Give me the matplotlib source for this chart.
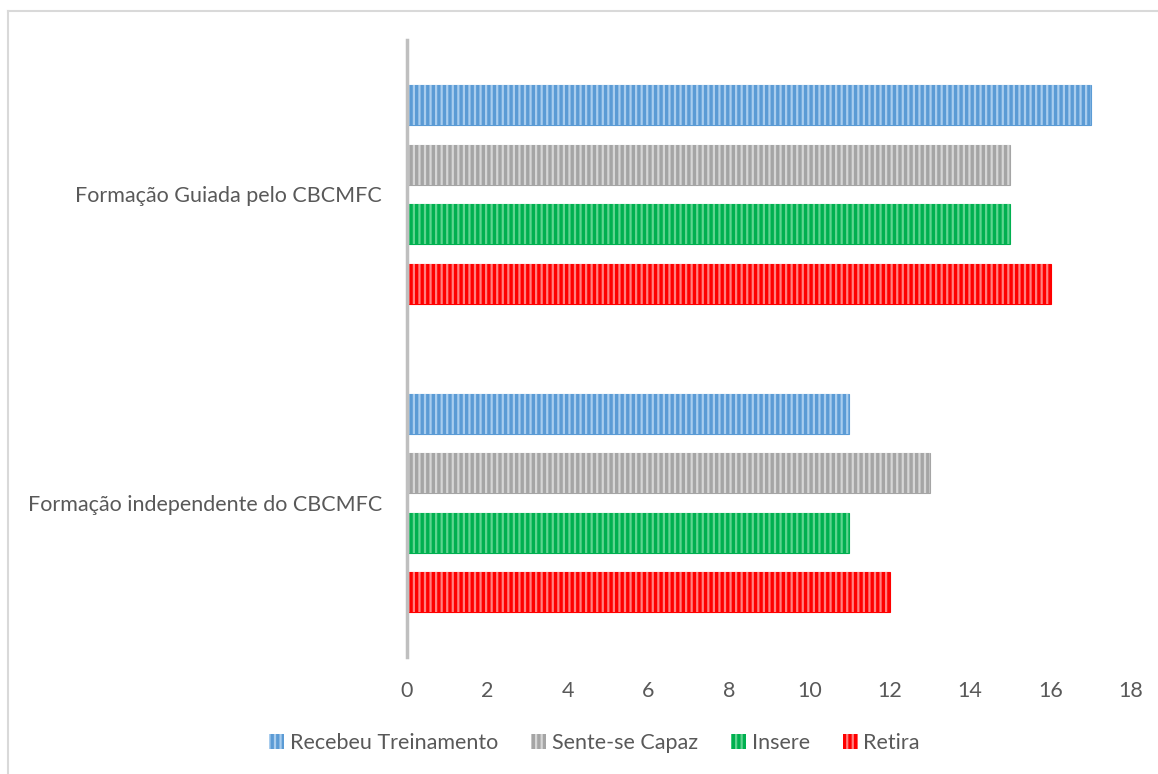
import matplotlib
matplotlib.use("Agg")
import matplotlib.pyplot as plt
import numpy as np
from matplotlib.patches import Patch
from matplotlib.lines import Line2D

plt.rcParams['font.family'] = ['Lato', 'DejaVu Sans']
plt.rcParams['hatch.linewidth'] = 1.6

categories = ["Formação independente do CBCMFC", "Formação Guiada pelo CBCMFC"]
series_names = ["Recebeu Treinamento", "Sente-se Capaz", "Insere", "Retira"]
recebeu = [11, 17]
sente = [13, 15]
insere = [11, 15]
retira = [12, 16]
series_values = [recebeu, sente, insere, retira]
colors = ["#5b9bd5", "#a5a5a5", "#00b050", "#ff0000"]
stripe_colors = ["#a9cdee", "#d6d6d6", "#5fd48f", "#ff8080"]

fig = plt.figure(figsize=(11.58, 7.74), dpi=100)
ax = fig.add_axes([0.3515, 0.151, 0.6252, 0.797])

y = np.arange(len(categories))
step = 0.193
height = 0.13
offsets = [1.5 * step, 0.5 * step, -0.5 * step, -1.5 * step]
for vals, off, c, sc, name in zip(series_values, offsets, colors, stripe_colors, series_names):
    ax.barh(y + off, vals, height=height, color=c, edgecolor=c, linewidth=0.8)
    ax.barh(y + off, vals, height=height, color="none", edgecolor=sc,
            hatch="|||", linewidth=0)

ax.set_xlim(0, 18)
ax.set_ylim(-0.5, 1.5)
ax.set_xticks(np.arange(0, 19, 2))
ax.set_yticks(y)
ax.set_yticklabels(categories)
ax.tick_params(axis='both', length=0, labelsize=15.5, colors="#595959")
ax.tick_params(axis='x', pad=17)
ax.tick_params(axis='y', pad=18)
for s in ["top", "right", "bottom"]:
    ax.spines[s].set_visible(False)
ax.spines["left"].set_color("#bfbfbf")
ax.spines["left"].set_linewidth(2.5)

handles = [Patch(facecolor=c, edgecolor=sc, hatch="|||", linewidth=0)
           for c, sc in zip(colors, stripe_colors)]
fig.legend(handles, series_names, loc="center", bbox_to_anchor=(0.5134, 0.04),
           ncol=4, frameon=False, fontsize=15.5, handlelength=0.7, handleheight=0.7,
           handletextpad=0.25, columnspacing=1.55, labelcolor="#595959")

# frame lines along the top and left edges
fig.add_artist(Line2D([8 / 1158, 1], [1 - 11 / 774, 1 - 11 / 774],
                      color="#d9d9d9", lw=1.5, transform=fig.transFigure))
fig.add_artist(Line2D([8 / 1158, 8 / 1158], [0, 1 - 11 / 774],
                      color="#d9d9d9", lw=1.5, transform=fig.transFigure))

fig.savefig("out.png", dpi=100)
